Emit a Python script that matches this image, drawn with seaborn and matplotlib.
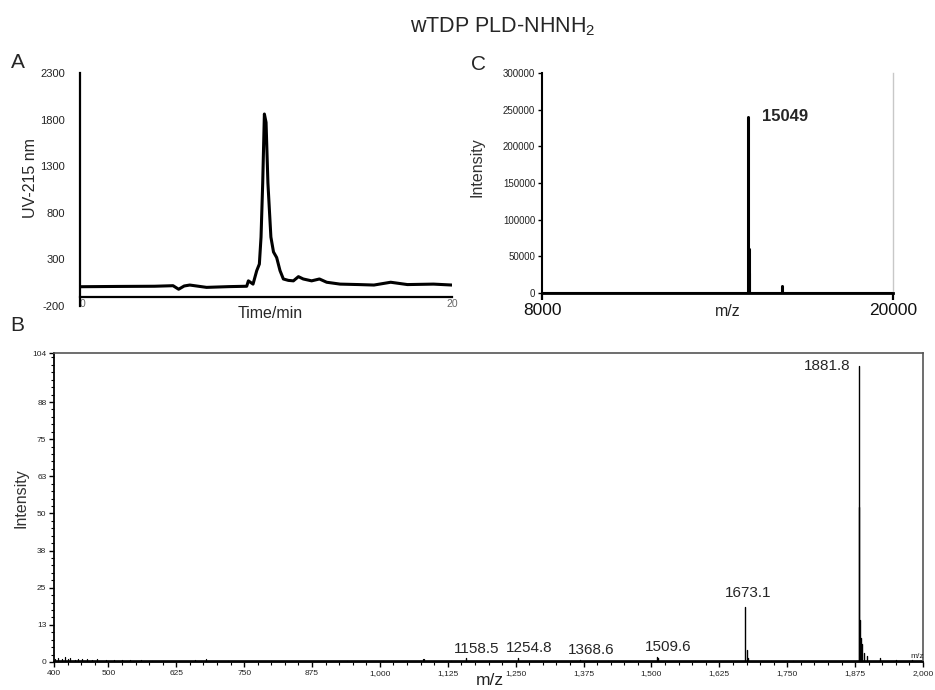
import numpy as np
import pandas as pd
import matplotlib
matplotlib.use("Agg")
import matplotlib.pyplot as plt
import seaborn as sns
from matplotlib.ticker import FixedLocator, MultipleLocator

# ---------------- Panel A: HPLC trace ----------------
time_min = [0, 2, 4, 5.0, 5.3, 5.6, 5.9, 6.8, 8.0, 8.96,
            9.05, 9.3, 9.5, 9.64, 9.73, 9.82, 9.91, 10.0, 10.1, 10.26,
            10.4, 10.57, 10.75, 10.93, 11.2, 11.47, 11.74, 12.0, 12.45, 12.87,
            13.26, 13.98, 15.0, 15.8, 16.7, 17.6, 19.0, 20]
uv_215 = [7, 10, 12, 18, -20, 15, 25, 0, 8, 12,
          70, 35, 180, 250, 540, 1120, 1860, 1770, 1120, 540,
          380, 320, 180, 90, 75, 70, 115, 90, 70, 90,
          55, 35, 30, 25, 55, 30, 35, 25]
a_yticks = [-200, 300, 800, 1300, 1800, 2300]

# ---------------- Panel C: deconvoluted mass ----------------
mz_c = [15049, 15060, 15080, 16195]
int_c = [240000, 60000, 27000, 10000]
c_label = "15049"

# ---------------- Panel B: ESI spectrum ----------------
mz_b_peaks = [1158.5, 1254.8, 1368.6, 1509.6, 1512.0, 1673.1, 1675.0, 1678.0,
              1881.8, 1883.0, 1884.5, 1886.0, 1888.0, 1892.0, 1897.0, 1920.0, 1950.0, 1980.0]
int_b_peaks = [1.2, 1.5, 0.8, 1.8, 1.2, 18.5, 4.0, 1.5,
               99.6, 52.0, 14.0, 8.0, 6.0, 3.0, 2.0, 1.2, 0.8, 0.8]
mz_b_noise = [402, 408, 415, 420, 425, 430, 438, 445, 452, 460, 470, 480, 495, 510,
              525, 540, 560, 580, 600, 630, 660, 680, 720, 800, 940, 1005, 1080,
              1082, 1100, 1130, 1200, 1300, 1420, 1460, 1580, 1720, 1760]
int_b_noise = [1.0, 1.3, 0.9, 1.6, 1.0, 1.2, 0.8, 1.1, 1.0, 0.9, 0.8, 0.9, 0.8, 0.7,
               0.7, 0.6, 0.6, 0.5, 0.5, 0.5, 0.6, 0.9, 0.4, 0.3, 0.4, 0.4, 1.0,
               0.9, 0.5, 0.4, 0.3, 0.3, 0.4, 0.4, 0.3, 0.3, 0.4]
b_labels = ["1158.5", "1254.8", "1368.6", "1509.6", "1673.1", "1881.8"]
b_xticks = [400, 500, 625, 750, 875, 1000, 1125, 1250, 1375, 1500, 1625, 1750, 1875, 2000]
b_yticks = [0, 12.5, 25, 37.5, 50, 62.5, 75, 87.5, 104]
b_yticklabels = ["0", "13", "25", "38", "50", "63", "75", "88", "104"]

sns.set_theme(style="white")
plt.rcParams['font.family'] = ['Liberation Sans', 'DejaVu Sans']
plt.rcParams['mathtext.fontset'] = 'custom'
plt.rcParams['mathtext.rm'] = 'Liberation Sans'
plt.rcParams['mathtext.default'] = 'rm'


def sticks(mz, inten):
    xs, ys, ids = [], [], []
    for i, (m, h) in enumerate(zip(mz, inten)):
        xs += [m, m]
        ys += [0, h]
        ids += [i, i]
    return pd.DataFrame({'mz': xs, 'intensity': ys, 'peak': ids})


fig = plt.figure(figsize=(9.35, 6.9), dpi=100)

# ---------------- Panel A ----------------
axA = fig.add_axes([0.0856, 0.5565, 0.3979, 0.3377])
dfA = pd.DataFrame({'time': time_min, 'uv': uv_215})
sns.lineplot(data=dfA, x='time', y='uv', color='black', lw=2.2, ax=axA)
axA.set_xlim(0, 20)
axA.set_ylim(-200, 2300)
axA.spines['top'].set_visible(False)
axA.spines['right'].set_visible(False)
axA.spines['left'].set_color('black')
axA.spines['left'].set_linewidth(1.6)
axA.spines['bottom'].set_color('black')
axA.spines['bottom'].set_linewidth(1.6)
axA.spines['bottom'].set_position(('data', -100))
axA.set_yticks(a_yticks)
axA.set_yticklabels([str(v) for v in a_yticks])
axA.set_xticks([0, 20])
axA.set_xticklabels(["0", "20"])
axA.tick_params(axis='y', length=0, labelsize=8, pad=11, labelcolor='#222222')
axA.tick_params(axis='x', length=0, labelsize=7.5, pad=2, labelcolor='#666666')
axA.get_xticklabels()[0].set_horizontalalignment('left')
axA.set_ylabel("UV-215 nm", fontsize=11.5)
axA.yaxis.set_label_coords(-0.113, 0.55)
axA.set_xlabel("Time/min", fontsize=11.5)
axA.xaxis.set_label_coords(0.51, 0.0)

# ---------------- Panel C ----------------
axC = fig.add_axes([0.5797, 0.5754, 0.3754, 0.3188])
dfC = sticks(mz_c, int_c)
sns.lineplot(x=[8000, 20000], y=[0, 0], color='black', lw=1.5, ax=axC)
sns.lineplot(data=dfC, x='mz', y='intensity', units='peak', estimator=None,
             color='black', lw=2.2, ax=axC)
axC.set_xlim(8000, 20000)
axC.set_ylim(0, 300000)
axC.spines['top'].set_visible(False)
axC.spines['right'].set_color('#c8c8c8')
axC.spines['right'].set_linewidth(1.0)
axC.spines['left'].set_color('black')
axC.spines['left'].set_linewidth(1.5)
axC.spines['bottom'].set_color('black')
axC.spines['bottom'].set_linewidth(2.0)
axC.set_yticks(list(range(0, 300001, 50000)))
axC.set_yticklabels([str(v) for v in range(0, 300001, 50000)])
axC.set_xticks([8000, 20000])
axC.set_xticklabels(["8000", "20000"])
axC.tick_params(axis='y', left=True, direction='out', length=3, width=1,
                color='black', labelsize=7, pad=2, labelcolor='#222222')
axC.tick_params(axis='x', bottom=True, direction='out', length=5, width=1.6,
                color='black', labelsize=12.5, pad=2, labelcolor='#111111')
axC.set_ylabel("Intensity", fontsize=11.5, color='#333333')
axC.yaxis.set_label_coords(-0.165, 0.57)
axC.set_xlabel("m/z", fontsize=11.5, color='#222222')
axC.xaxis.set_label_coords(0.53, -0.05)
axC.annotate(c_label, xy=(mz_c[0], int_c[0]), xytext=(10, 0),
             textcoords='offset points', ha='left', va='center',
             fontsize=12, fontweight='bold')

# ---------------- Panel B ----------------
axB = fig.add_axes([0.0578, 0.0406, 0.9294, 0.4478])
dfN = sticks(mz_b_noise, int_b_noise)
dfP = sticks(mz_b_peaks, int_b_peaks)
sns.lineplot(x=[400, 2000], y=[0.25, 0.25], color='black', lw=1.2, ax=axB)
sns.lineplot(data=dfN, x='mz', y='intensity', units='peak', estimator=None,
             color='black', lw=0.9, ax=axB)
sns.lineplot(data=dfP, x='mz', y='intensity', units='peak', estimator=None,
             color='black', lw=1.0, ax=axB)
axB.set_xlim(400, 2000)
axB.set_ylim(0, 104)
for s in ['left', 'bottom']:
    axB.spines[s].set_color('black')
    axB.spines[s].set_linewidth(1.3)
for s in ['top', 'right']:
    axB.spines[s].set_color('#555555')
    axB.spines[s].set_linewidth(1.2)
axB.xaxis.set_major_locator(FixedLocator(b_xticks))
axB.set_xticklabels([f"{v:,}" for v in b_xticks])
axB.xaxis.set_minor_locator(MultipleLocator(25))
axB.yaxis.set_major_locator(FixedLocator(b_yticks))
axB.set_yticklabels(b_yticklabels)
axB.yaxis.set_minor_locator(MultipleLocator(2.5))
axB.tick_params(axis='both', which='major', direction='out', length=3.5, width=1,
                color='black', labelsize=6, pad=2, labelcolor='#222222',
                left=True, bottom=True)
axB.tick_params(axis='both', which='minor', direction='out', length=2, width=0.8,
                color='black', left=True, bottom=True)
axB.set_ylabel("Intensity", fontsize=11.5, color='#333333')
axB.yaxis.set_label_coords(-0.029, 0.53)
axB.set_xlabel("m/z", fontsize=12.5, color='#222222')
axB.xaxis.set_label_coords(0.502, -0.035)

lab_vals = [float(s) for s in b_labels]
for s, m in zip(b_labels, lab_vals):
    h = int_b_peaks[mz_b_peaks.index(m)]
    if m > 1800:
        axB.annotate(s, xy=(m, h), xytext=(-6, 0), textcoords='offset points',
                     ha='right', va='center', fontsize=11)
    elif m > 1600:
        axB.annotate(s, xy=(m, h), xytext=(2, 5), textcoords='offset points',
                     ha='center', va='bottom', fontsize=11)
    else:
        axB.annotate(s, xy=(m, h), xytext=(8, 2), textcoords='offset points',
                     ha='center', va='bottom', fontsize=11)
axB.text(1990, 0.8, "m/z", fontsize=6, ha='center', va='bottom')

# ---------------- Panel letters & title ----------------
fig.text(0.019, 0.909, "A", fontsize=15, ha='center', va='center')
fig.text(0.512, 0.906, "C", fontsize=15, ha='center', va='center')
fig.text(0.018, 0.528, "B", fontsize=15, ha='center', va='center')
fig.text(0.538, 0.962, "wTDP PLD-NHNH$_2$", fontsize=15.5, ha='center', va='center')

fig.savefig("out.png", dpi=100, facecolor='white')
